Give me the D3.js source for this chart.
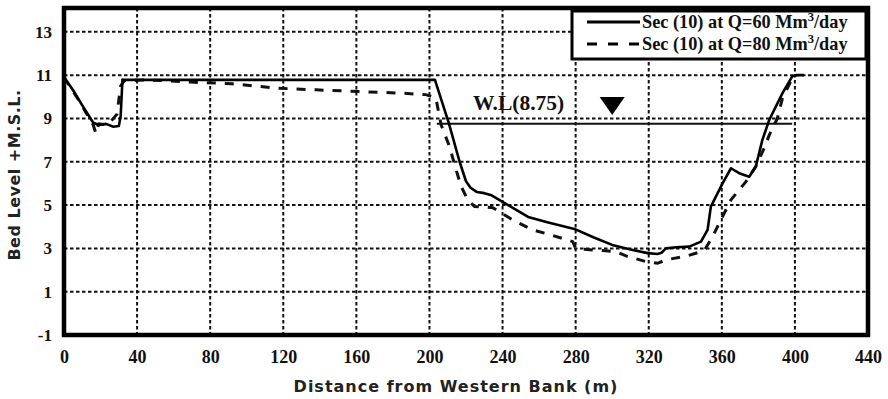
<!DOCTYPE html>
<html>
<head>
<meta charset="utf-8">
<script src="https://cdn.jsdelivr.net/npm/d3@7"></script>
<style>
  html, body { margin: 0; padding: 0; background: #fff; }
  svg { display: block; }
</style>
</head>
<body>
<svg id="chart" width="888" height="399"></svg>
<script>
// Cross-section of section 10: distance from the western bank (m) vs bed level (+M.S.L.)
const xTicks = [0, 40, 80, 120, 160, 200, 240, 280, 320, 360, 400, 440];
const yTicks = [-1, 1, 3, 5, 7, 9, 11, 13];

const q60Distance = [0, 5, 10, 16, 19, 23, 27, 30, 31, 32, 33, 120, 203, 210.6, 216.5, 220, 222.5, 226, 230, 234, 244, 254, 265, 279.3, 290, 300, 310, 319.4, 324.8, 327, 329.4, 335, 342.2, 348.6, 352.2, 354, 360.4, 365, 369.5, 375, 378.6, 382.2, 386, 393.2, 398.6, 401, 405];
const q60Level = [10.9, 10.3, 9.6, 8.8, 8.7, 8.75, 8.62, 8.65, 9.1, 10.8, 10.78, 10.78, 10.78, 8.78, 7.0, 6.1, 5.8, 5.6, 5.55, 5.45, 4.95, 4.45, 4.2, 3.9, 3.5, 3.16, 2.95, 2.78, 2.74, 2.8, 3.0, 3.05, 3.08, 3.31, 3.85, 4.93, 6.0, 6.7, 6.47, 6.31, 6.78, 8.01, 8.94, 10.17, 10.95, 11.0, 11.0];

const q80Distance = [0, 8, 16, 17.5, 19, 24, 29, 31, 33, 46, 69, 92, 104, 116, 138, 162, 184, 198, 203.5, 205, 206.4, 211, 214.6, 217.4, 221, 224.7, 234.7, 245.6, 256.5, 266.6, 278.4, 280, 284, 295, 302, 307.6, 318.5, 324.8, 329.4, 341, 350.4, 355, 360.4, 365, 373.2, 378.6, 383.2, 386, 390.4, 393.2, 396.8, 399];
const q80Level = [10.9, 9.85, 8.7, 8.3, 8.75, 8.7, 9.2, 10.5, 10.75, 10.78, 10.68, 10.6, 10.5, 10.4, 10.32, 10.24, 10.17, 10.1, 9.95, 9.3, 8.7, 7.7, 6.62, 5.85, 5.24, 4.93, 4.88, 4.31, 3.85, 3.62, 3.31, 3.0, 2.96, 2.9, 2.85, 2.65, 2.39, 2.31, 2.47, 2.65, 2.9, 3.55, 4.47, 5.24, 6.08, 6.78, 7.63, 8.24, 9.0, 9.94, 10.55, 10.95];

const waterLevel = 8.75;
const waterExtent = [204, 398.5];
const waterMarkerAt = 300;
const seriesLabels = ["Sec (10) at Q=60 Mm", "Sec (10) at Q=80 Mm"];

const svg = d3.select("#chart");
const plotLeft = 64, plotRight = 868, plotTop = 8, plotBottom = 335;

const x = d3.scaleLinear().domain([0, 440]).range([plotLeft, plotRight]);
const y = d3.scaleLinear().domain([-1, 14.1]).range([plotBottom, plotTop]);

const serif = "'Liberation Serif', 'Times New Roman', serif";
const sans = "'DejaVu Sans', Verdana, sans-serif";

// dotted grid
const grid = svg.append("g").attr("stroke", "#111").attr("stroke-width", 2).attr("stroke-dasharray", "3.5,2.5");
grid.selectAll("line.v").data(xTicks.filter(t => t > 0 && t < 440)).join("line").attr("class", "v")
  .attr("x1", d => x(d)).attr("x2", d => x(d)).attr("y1", plotTop).attr("y2", plotBottom);
grid.selectAll("line.h").data(yTicks.filter(t => t > -1)).join("line").attr("class", "h")
  .attr("x1", plotLeft).attr("x2", plotRight).attr("y1", d => y(d)).attr("y2", d => y(d));

// axes (labels only; the frame is drawn below)
const xAxis = svg.append("g").attr("transform", `translate(0,${plotBottom})`)
  .call(d3.axisBottom(x).tickValues(xTicks).tickFormat(d => String(d)).tickSize(0).tickPadding(15));
xAxis.select(".domain").remove();
xAxis.selectAll("text").attr("font-family", serif).attr("font-weight", "bold").attr("font-size", 18).attr("fill", "#111");

const yAxis = svg.append("g").attr("transform", `translate(${plotLeft},0)`)
  .call(d3.axisLeft(y).tickValues(yTicks).tickFormat(d => String(d)).tickSize(0).tickPadding(12));
yAxis.select(".domain").remove();
yAxis.selectAll("text").attr("font-family", serif).attr("font-weight", "bold").attr("font-size", 17).attr("fill", "#111");

// water level
svg.append("line")
  .attr("x1", x(waterExtent[0])).attr("x2", x(waterExtent[1]))
  .attr("y1", y(waterLevel)).attr("y2", y(waterLevel))
  .attr("stroke", "#111").attr("stroke-width", 2);
svg.append("text").attr("x", 473).attr("y", 110)
  .attr("font-family", serif).attr("font-weight", "bold").attr("font-size", 21.5).attr("fill", "#111")
  .text(`W.L(${waterLevel.toFixed(2)})`);
const tx = x(waterMarkerAt);
svg.append("path")
  .attr("d", `M${tx - 12.5},97 L${tx + 12.5},97 L${tx},115 Z`)
  .attr("fill", "#000");

// bed profiles
const line = d3.line().x(d => x(d[0])).y(d => y(d[1]));
svg.append("path").datum(d3.zip(q80Distance, q80Level))
  .attr("d", line).attr("fill", "none").attr("stroke", "#111")
  .attr("stroke-width", 3).attr("stroke-dasharray", "9,9");
svg.append("path").datum(d3.zip(q60Distance, q60Level))
  .attr("d", line).attr("fill", "none").attr("stroke", "#000")
  .attr("stroke-width", 2.6).attr("stroke-linejoin", "round");

// frame
svg.append("rect").attr("x", plotLeft).attr("y", plotTop).attr("width", plotRight - plotLeft).attr("height", plotBottom - plotTop)
  .attr("fill", "none").attr("stroke", "#000").attr("stroke-width", 4.5);

// legend
const lg = svg.append("g");
lg.append("rect").attr("x", 572).attr("y", 11).attr("width", 294).attr("height", 48)
  .attr("fill", "#fff").attr("stroke", "#000").attr("stroke-width", 3);
lg.append("line").attr("x1", 587).attr("x2", 640).attr("y1", 22).attr("y2", 22)
  .attr("stroke", "#000").attr("stroke-width", 3);
lg.append("line").attr("x1", 587).attr("x2", 640).attr("y1", 44).attr("y2", 44)
  .attr("stroke", "#000").attr("stroke-width", 3).attr("stroke-dasharray", "10,11");
seriesLabels.forEach((s, i) => {
  const t = lg.append("text").attr("x", 642).attr("y", 28 + i * 22)
    .attr("font-family", serif).attr("font-weight", "bold").attr("font-size", 18.3).attr("fill", "#111");
  t.append("tspan").text(s);
  t.append("tspan").attr("dy", -7).attr("font-size", 12.5).text("3");
  t.append("tspan").attr("dy", 7).text("/day");
});

// axis titles
svg.append("text").attr("x", (plotLeft + plotRight) / 2 - 10).attr("y", 392).attr("text-anchor", "middle")
  .attr("font-family", sans).attr("font-weight", "bold").attr("font-size", 16).attr("letter-spacing", 1)
  .attr("fill", "#222").text("Distance from Western Bank (m)");
svg.append("text").attr("transform", "translate(20,175) rotate(-90)").attr("text-anchor", "middle")
  .attr("font-family", sans).attr("font-weight", "bold").attr("font-size", 16).attr("letter-spacing", 0.5)
  .attr("fill", "#222").text("Bed Level +M.S.L.");
</script>
</body>
</html>
